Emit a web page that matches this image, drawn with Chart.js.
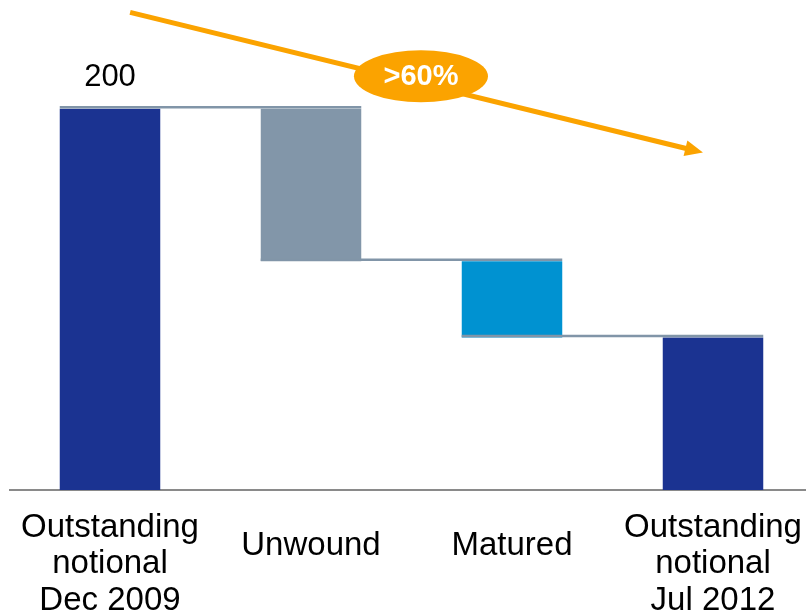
<!DOCTYPE html>
<html>
<head>
<meta charset="utf-8">
<script src="https://cdn.jsdelivr.net/npm/chart.js@4/dist/chart.umd.min.js"></script>
<style>
  html, body { margin: 0; padding: 0; background: #fff; overflow: hidden; width: 806px; height: 613px; }
  #outer { position: relative; width: 806px; height: 613px; overflow: hidden; }
  #wrap { position: absolute; left: 0; top: 0; width: 816px; height: 639px; }
</style>
</head>
<body>
<div id="outer"><div id="wrap"><canvas id="c"></canvas></div></div>
<script>
// ---- data ----
const categories = [
  ['Outstanding', 'notional', 'Dec 2009'],
  ['Unwound', ''],
  ['Matured', ''],
  ['Outstanding', 'notional', 'Jul 2012']
];
const startValue = 200;        // outstanding notional Dec 2009
const changes = [-80, -40];    // unwound, matured
const endValue = 80;           // outstanding notional Jul 2012
const valueLabels = ['200', '', '', ''];
const trendLabel = '>60%';

// ---- build floating ranges ----
const ranges = [];
ranges.push([0, startValue]);
let level = startValue;
for (const c of changes) { ranges.push([level + c, level]); level += c; }
ranges.push([0, endValue]);
const levels = [startValue, startValue + changes[0], startValue + changes[0] + changes[1]];

const colors = ['#1B3391', '#8296A9', '#0092D1', '#1B3391'];
const ORANGE = '#FBA300';

// annotation placement in data units (x = category index, y = value)
const arrowFrom = { x: 0.10, y: 250.5 };
const arrowTo = { x: 2.95, y: 177 };
const badgeAt = { x: 1.547, y: 217 };

const waterfallPlugin = {
  id: 'waterfall',
  afterDatasetsDraw(chart) {
    const ctx = chart.ctx;
    const meta = chart.getDatasetMeta(0);
    const ys = chart.scales.y, xs = chart.scales.x;
    // connectors
    ctx.save();
    ctx.strokeStyle = '#8195A8';
    ctx.lineWidth = 2.5;
    for (let i = 0; i < levels.length; i++) {
      const a = meta.data[i], b = meta.data[i + 1];
      const y = ys.getPixelForValue(levels[i]) - 1.5;
      ctx.beginPath();
      ctx.moveTo(a.x - a.width / 2, y);
      ctx.lineTo(b.x + b.width / 2, y);
      ctx.stroke();
    }
    ctx.restore();
    // value labels
    ctx.save();
    ctx.font = '31px "Liberation Sans", Arial, sans-serif';
    ctx.fillStyle = '#000';
    ctx.textAlign = 'center';
    ctx.textBaseline = 'alphabetic';
    meta.data.forEach((el, i) => {
      if (valueLabels[i]) ctx.fillText(valueLabels[i], el.x, el.y - 23);
    });
    ctx.restore();
    // trend arrow
    const x1 = xs.getPixelForValue(arrowFrom.x), y1 = ys.getPixelForValue(arrowFrom.y);
    const x2 = xs.getPixelForValue(arrowTo.x), y2 = ys.getPixelForValue(arrowTo.y);
    const ang = Math.atan2(y2 - y1, x2 - x1);
    ctx.save();
    ctx.strokeStyle = ORANGE;
    ctx.fillStyle = ORANGE;
    ctx.lineWidth = 5;
    ctx.beginPath();
    ctx.moveTo(x1, y1);
    ctx.lineTo(x2 - 12 * Math.cos(ang), y2 - 12 * Math.sin(ang));
    ctx.stroke();
    ctx.beginPath();
    ctx.moveTo(x2, y2);
    ctx.lineTo(x2 - 18 * Math.cos(ang) + 8 * Math.sin(ang), y2 - 18 * Math.sin(ang) - 8 * Math.cos(ang));
    ctx.lineTo(x2 - 18 * Math.cos(ang) - 8 * Math.sin(ang), y2 - 18 * Math.sin(ang) + 8 * Math.cos(ang));
    ctx.closePath();
    ctx.fill();
    // badge
    const bx = xs.getPixelForValue(badgeAt.x), by = ys.getPixelForValue(badgeAt.y);
    ctx.beginPath();
    ctx.ellipse(bx, by, 67, 26, 0, 0, Math.PI * 2);
    ctx.fill();
    ctx.fillStyle = '#fff';
    ctx.font = 'bold 29px "Liberation Sans", Arial, sans-serif';
    ctx.textAlign = 'center';
    ctx.textBaseline = 'middle';
    ctx.fillText(trendLabel, bx, by + 1);
    ctx.restore();
  }
};

new Chart(document.getElementById('c'), {
  type: 'bar',
  data: {
    labels: categories,
    datasets: [{
      data: ranges,
      backgroundColor: colors,
      borderWidth: 0,
      categoryPercentage: 1,
      barPercentage: 0.5
    }]
  },
  options: {
    responsive: true,
    maintainAspectRatio: false,
    animation: false,
    events: [],
    layout: { padding: { left: 9.5, right: 2.5, top: 0, bottom: 0 } },
    plugins: { legend: { display: false }, tooltip: { enabled: false } },
    scales: {
      x: {
        grid: {
          display: true, drawOnChartArea: false, drawTicks: true,
          tickLength: 36, tickColor: 'rgba(0,0,0,0)', color: 'rgba(0,0,0,0)'
        },
        border: { display: true, color: '#8A8A8A', width: 2 },
        ticks: {
          color: '#000',
          font: { family: '"Liberation Sans", Arial, sans-serif', size: 33, lineHeight: 1.1 },
          padding: 2,
          maxRotation: 0,
          autoSkip: false,
          crossAlign: 'center'
        }
      },
      y: {
        display: false,
        min: 0,
        max: 257
      }
    }
  },
  plugins: [waterfallPlugin]
});
</script>
</body>
</html>
